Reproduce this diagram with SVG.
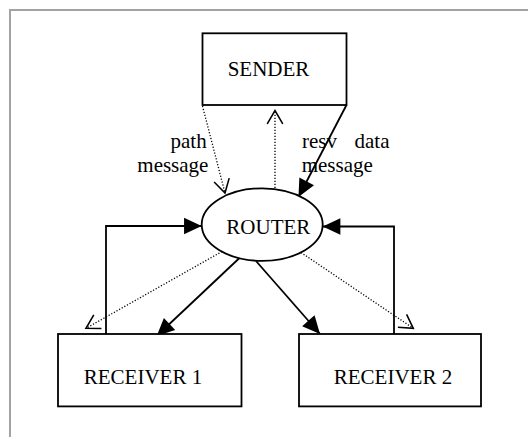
<svg xmlns="http://www.w3.org/2000/svg" width="528" height="437" viewBox="0 0 528 437">
  <style>
    .box { fill: #ffffff; stroke: #000000; stroke-width: 1.8; }
    .lbl { font-family: "Liberation Serif", "Times New Roman", serif; font-size: 21px; fill: #000000; }
    .solid { fill: none; stroke: #000000; stroke-width: 1.8; }
    .dot { fill: none; stroke: #000000; stroke-width: 1.3; stroke-dasharray: 1.2 1.8; }
    .frame { fill: none; stroke: #a3a3a3; stroke-width: 2; }
  </style>
  <defs>
    <marker id="filled" markerUnits="userSpaceOnUse" markerWidth="20" markerHeight="20" viewBox="-16 -8 17 16" refX="0" refY="0" orient="auto">
      <path d="M0,0 L-15,-7 L-15,7 Z" fill="#000000"/>
    </marker>
    <marker id="open" markerUnits="userSpaceOnUse" markerWidth="20" markerHeight="20" viewBox="-14 -9 16 18" refX="0" refY="0" orient="auto">
      <path d="M-12,-7 L0,0 L-12,7" fill="none" stroke="#000000" stroke-width="1.4"/>
    </marker>
  </defs>

  <!-- page frame -->
  <path class="frame" d="M10,437 L10,10 L528,10"/>

  <!-- connectors -->
  <g id="connectors">
    <!-- path message: sender to router -->
    <path class="dot" d="M202.5,106 L225,193" marker-end="url(#open)"/>
    <!-- resv message: router back to sender -->
    <path class="dot" d="M275,188 L275,110.5" marker-end="url(#open)"/>
    <!-- data message: sender to router -->
    <path class="solid" d="M346.5,105 L298.5,197" marker-end="url(#filled)"/>
    <!-- receiver feedback loops -->
    <path class="solid" d="M106,334 L106,226 L201.7,226" marker-end="url(#filled)"/>
    <path class="solid" d="M394,334 L394,226.5 L322.7,226.5" marker-end="url(#filled)"/>
    <!-- router to receivers -->
    <path class="dot" d="M222,251.5 L86,328.3" marker-end="url(#open)"/>
    <path class="solid" d="M240,257.5 L156.7,336" marker-end="url(#filled)"/>
    <path class="solid" d="M256,261 L320,334" marker-end="url(#filled)"/>
    <path class="dot" d="M301,252.5 L413.3,328.3" marker-end="url(#open)"/>
    <!-- connector labels -->
    <text class="lbl" x="170.5" y="148">path</text>
    <text class="lbl" x="137.3" y="172">message</text>
    <text class="lbl" x="302" y="148">resv</text>
    <text class="lbl" x="354.5" y="148">data</text>
    <text class="lbl" x="301.7" y="172">message</text>
  </g>

  <g id="sender">
    <rect class="box" x="202.5" y="33.3" width="144" height="71.7"/>
    <text class="lbl" x="268.5" y="76" text-anchor="middle">SENDER</text>
  </g>

  <g id="router">
    <ellipse class="box" cx="262.2" cy="224.6" rx="60.5" ry="36.3"/>
    <text class="lbl" x="268.3" y="234" text-anchor="middle">ROUTER</text>
  </g>

  <g id="receiver1">
    <rect class="box" x="58" y="334" width="183.5" height="72.4"/>
    <text class="lbl" x="143" y="384" text-anchor="middle">RECEIVER 1</text>
  </g>

  <g id="receiver2">
    <rect class="box" x="299" y="334" width="182" height="72.4"/>
    <text class="lbl" x="393" y="384" text-anchor="middle">RECEIVER 2</text>
  </g>
</svg>
